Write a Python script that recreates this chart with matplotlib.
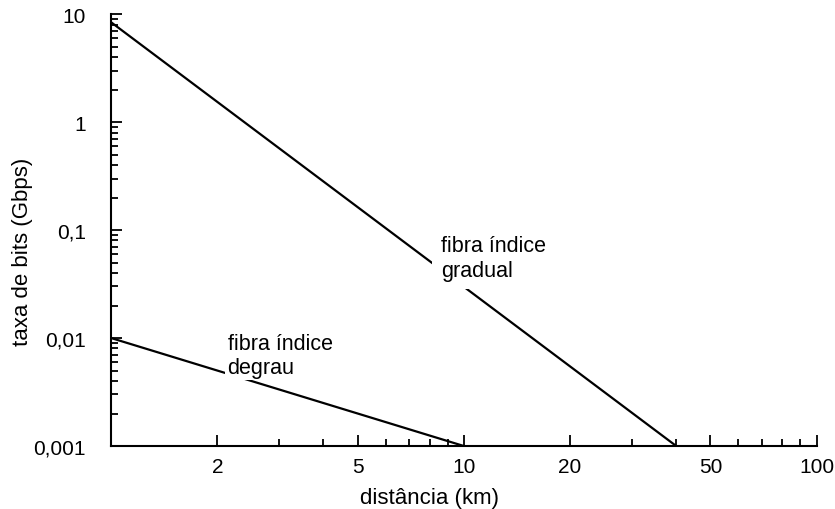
import matplotlib
matplotlib.use("Agg")
import matplotlib.pyplot as plt
from matplotlib.ticker import FixedLocator, FixedFormatter, NullFormatter

plt.rcParams['font.family'] = ['Liberation Sans', 'DejaVu Sans']

# Data
graded_x = [1.0, 40.0]
graded_y = [8.4, 0.001]
step_x = [1.0, 10.0]
step_y = [0.01, 0.001]

x_ticks = [2, 5, 10, 20, 50, 100]
x_tick_labels = ["2", "5", "10", "20", "50", "100"]
x_minor = [3, 4, 6, 7, 8, 9, 30, 40, 60, 70, 80, 90]
y_ticks = [0.001, 0.01, 0.1, 1, 10]
y_tick_labels = ["0,001", "0,01", "0,1", "1", "10"]
y_minor = [m * 10.0 ** e for e in range(-3, 1) for m in range(2, 10)]

fig = plt.figure(figsize=(8.35, 5.1), dpi=100)
ax = fig.add_axes([0.133, 0.1235, 0.845, 0.847])

ax.plot(graded_x, graded_y, color='black', lw=1.6, zorder=2)
ax.plot(step_x, step_y, color='black', lw=1.6, zorder=2)

ax.set_xscale('log')
ax.set_yscale('log')
ax.set_xlim(1, 100)
ax.set_ylim(0.001, 10)

ax.xaxis.set_major_locator(FixedLocator(x_ticks))
ax.xaxis.set_major_formatter(FixedFormatter(x_tick_labels))
ax.xaxis.set_minor_locator(FixedLocator(x_minor))
ax.xaxis.set_minor_formatter(NullFormatter())
ax.yaxis.set_major_locator(FixedLocator(y_ticks))
ax.yaxis.set_major_formatter(FixedFormatter(y_tick_labels))
ax.yaxis.set_minor_locator(FixedLocator(y_minor))
ax.yaxis.set_minor_formatter(NullFormatter())

for s in ['top', 'right']:
    ax.spines[s].set_visible(False)
for s in ['left', 'bottom']:
    ax.spines[s].set_linewidth(1.5)

ax.tick_params(axis='both', which='major', direction='in', length=8, width=1.3,
               labelsize=15, pad=8)
ax.tick_params(axis='both', which='minor', direction='in', length=5, width=1.3)
ax.tick_params(axis='y', which='major', pad=18)

ax.set_xlabel('distância (km)', fontsize=16)
ax.xaxis.set_label_coords(0.452, -0.095)
ax.set_ylabel('taxa de bits (Gbps)', fontsize=16)
ax.yaxis.set_label_coords(-0.11, 0.451)

ax.text(8.6, 0.089, 'fibra índice\ngradual', fontsize=15.5, va='top', ha='left',
        linespacing=1.2, zorder=3,
        bbox=dict(facecolor='white', edgecolor='none', pad=6))
ax.text(2.14, 0.0111, 'fibra índice\ndegrau', fontsize=15.5, va='top', ha='left',
        linespacing=1.2, zorder=3,
        bbox=dict(facecolor='white', edgecolor='none', pad=1.5))

fig.savefig('out.png', dpi=100)
